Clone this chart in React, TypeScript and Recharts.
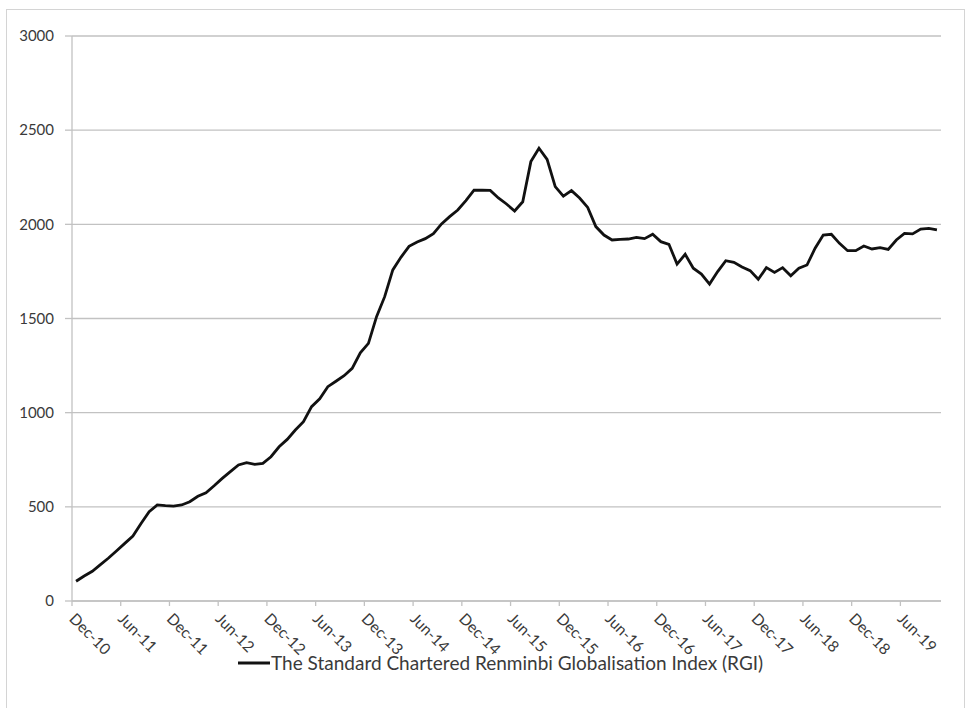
import React from 'react';
import {
  LineChart,
  Line,
  XAxis,
  YAxis,
  CartesianGrid,
  Legend,
} from 'recharts';

// Monthly RGI readings, Dec-10 through Oct-19
const rgiValues = [
  105, 133, 158, 193, 228, 267, 306, 345, 412, 474, 510, 506,
  504, 510, 527, 556, 575, 612, 651, 687, 722, 735, 726, 731,
  766, 819, 858, 908, 952, 1032, 1074, 1138, 1167, 1196, 1235, 1318,
  1368, 1510, 1616, 1758, 1825, 1883, 1906, 1924, 1950, 2002, 2041, 2076,
  2126, 2181, 2182, 2180, 2140, 2108, 2071, 2120, 2333, 2404, 2345, 2200,
  2150, 2179, 2140, 2090, 1988, 1943, 1917, 1920, 1922, 1931, 1924, 1947,
  1908, 1894, 1789, 1841, 1767, 1736, 1683, 1749, 1807, 1798, 1774, 1754,
  1708, 1770, 1745, 1770, 1727, 1767, 1784, 1873, 1943, 1947, 1899, 1860,
  1860, 1885, 1869, 1876, 1867, 1917, 1952, 1949, 1975, 1978, 1970,
];

// x-axis labels, one every six months
const tickLabels = [
  'Dec-10', 'Jun-11', 'Dec-11', 'Jun-12', 'Dec-12', 'Jun-13', 'Dec-13', 'Jun-14', 'Dec-14',
  'Jun-15', 'Dec-15', 'Jun-16', 'Dec-16', 'Jun-17', 'Dec-17', 'Jun-18', 'Dec-18', 'Jun-19',
];

const yTicks = [0, 500, 1000, 1500, 2000, 2500, 3000];

const monthNames = ['Jan', 'Feb', 'Mar', 'Apr', 'May', 'Jun', 'Jul', 'Aug', 'Sep', 'Oct', 'Nov', 'Dec'];

const seriesName = 'The Standard Chartered Renminbi Globalisation Index (RGI)';

// each month sits in the middle of its slot, ticks mark slot boundaries
const data = rgiValues.map((value, i) => {
  const m = 11 + i;
  return {
    pos: i + 0.5,
    month: `${monthNames[m % 12]}-${10 + Math.floor(m / 12)}`,
    rgi: value,
  };
});

const xTicks = tickLabels.map((_, i) => i * 6);

const FONT = 'Lato, "Open Sans", sans-serif';
const TEXT = '#3a3a3a';
const GRID = '#c2c2c2';

const renderLegend = () => (
  <div style={{ display: 'flex', alignItems: 'center', fontFamily: FONT, fontSize: 19, color: TEXT, lineHeight: '22px' }}>
    <svg width={32} height={10} style={{ marginRight: 1 }}>
      <line x1={0} y1={5} x2={32} y2={5} stroke="#111" strokeWidth={3} />
    </svg>
    <span>{seriesName}</span>
  </div>
);

export default function App() {
  return (
    <div style={{ position: 'absolute', left: 0, top: 0, width: 968, height: 708, background: '#fff', overflow: 'hidden' }}>
      <div
        style={{
          position: 'absolute',
          left: 6,
          top: 9,
          width: 959,
          height: 720,
          border: '1px solid #d4d4d4',
          boxSizing: 'border-box',
        }}
      />
      <LineChart
        width={968}
        height={708}
        data={data}
        margin={{ top: 36, right: 27, bottom: 47, left: 0 }}
      >
        <CartesianGrid vertical={false} stroke={GRID} strokeWidth={1.3} />
        <XAxis
          type="number"
          dataKey="pos"
          domain={[0, 107]}
          ticks={xTicks}
          tickFormatter={(v) => tickLabels[v / 6]}
          interval={0}
          height={60}
          stroke={GRID}
          strokeWidth={1.3}
          tickSize={5}
          tickMargin={6}
          angle={45}
          textAnchor="start"
          tick={{ fill: TEXT, fontSize: 15.5, fontFamily: FONT, dx: 4 }}
        />
        <YAxis
          type="number"
          domain={[0, 3000]}
          ticks={yTicks}
          interval={0}
          width={72}
          stroke={GRID}
          strokeWidth={1.3}
          tickSize={7}
          tickMargin={11}
          tick={{ fill: TEXT, fontSize: 15, fontFamily: FONT }}
        />
        <Legend
          verticalAlign="middle"
          align="center"
          layout="horizontal"
          wrapperStyle={{ left: 238, top: 652, width: 620 }}
          content={renderLegend}
        />
        <Line
          type="linear"
          dataKey="rgi"
          name={seriesName}
          stroke="#111"
          strokeWidth={2.8}
          dot={false}
          isAnimationActive={false}
        />
      </LineChart>
    </div>
  );
}
